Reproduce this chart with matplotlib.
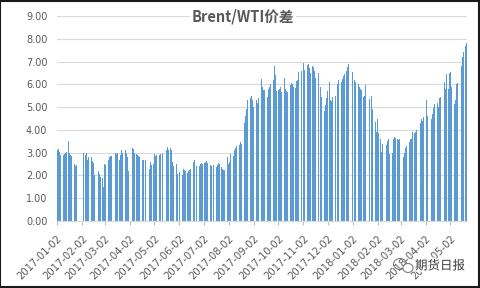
import matplotlib
matplotlib.use('Agg')
import matplotlib.pyplot as plt
import matplotlib.dates as mdates
import matplotlib.patheffects as pe
from matplotlib.patches import Rectangle, Ellipse
import numpy as np
import pandas as pd

# ---- data -------------------------------------------------------------
start_date = '2017-01-02'
end_date = '2018-05-22'
holidays = ['2017-01-27', '2017-01-30', '2017-01-31', '2017-02-01', '2017-02-02',
            '2018-04-05', '2018-04-06']

spread_2017_h1 = [
    3.1, 3.15, 3.1, 3.05, 2.9,
    2.8, 2.9, 2.95, 3.0, 3.05,
    3.5, 3.0, 2.9, 2.85, 2.8,
    2.5, 2.4, 2.3, 2.45,
    3.0,
    2.9, 3.0, 2.7, 2.8, 2.75,
    2.8, 2.65, 2.7, 2.55, 2.0,
    2.1, 2.3, 2.2, 2.05, 1.95,
    1.9, 1.5, 2.5, 2.45, 2.6,
    2.7, 2.8, 2.75, 2.85, 2.85,
    3.2, 2.95, 3.0, 2.95, 3.0,
    2.7, 2.9, 3.1, 3.0, 2.95,
    3.1, 3.0, 2.9, 2.8, 2.2,
    2.9, 3.05, 3.2, 3.15, 3.0,
    2.95, 2.9, 2.85, 2.8, 2.75,
    2.7, 2.7, 2.65, 2.6, 2.7,
    2.55, 2.4, 2.3, 2.6, 2.45,
    2.5, 2.95, 2.85, 2.9, 2.95,
    2.9, 2.95, 2.9, 3.0, 3.0,
    3.0, 3.05, 3.1, 3.25, 3.1,
    3.2, 3.1, 2.6, 2.4, 2.35,
    2.5, 2.05, 2.3, 2.2, 2.15,
    2.0, 2.25, 2.3, 2.25, 2.2,
    2.1, 2.2, 2.25, 2.3, 2.3,
    2.6, 2.7, 2.8, 2.75, 2.4,
    2.4, 2.45, 2.5, 2.55, 2.5,
]
spread_2017_h2 = [
    2.55, 2.6, 2.65, 2.55, 2.6,
    2.45, 2.4, 2.45, 2.5, 2.45,
    2.35, 2.4, 2.45, 2.55, 2.5,
    2.35, 2.3, 2.25, 2.25, 2.3,
    2.8, 2.5, 2.6, 2.75, 2.95,
    2.85, 3.0, 3.1, 3.2, 3.3,
    3.3, 3.35, 3.45, 3.4, 3.85,
    4.3, 4.6, 4.9, 5.1, 5.3,
    5.4, 5.2, 5.5, 5.3, 5.0,
    5.0, 5.3, 5.2, 5.4, 5.5,
    6.25, 5.9, 5.75, 5.8, 5.75,
    5.45, 5.6, 5.8, 5.9, 6.0,
    6.0, 6.2, 6.8, 6.4, 5.7,
    5.75, 5.8, 5.9, 5.7, 5.65,
    6.3, 5.7, 5.8, 5.7, 5.65,
    5.6, 5.95, 6.05, 6.0, 5.9,
    5.85, 6.15, 6.2, 6.5, 6.55,
    6.6, 6.7, 6.9, 6.95, 6.65,
    6.4, 6.85, 6.9, 6.7, 6.5,
    6.8, 6.75, 6.6, 6.4, 6.3,
    6.5, 6.2, 6.1, 5.9, 5.45,
    5.0, 4.85, 5.1, 5.4, 5.7,
    6.1, 5.3, 5.25, 5.3, 5.45,
    5.5, 6.7, 6.1, 6.0, 6.2,
    5.85, 6.1, 6.25, 6.35, 6.45,
    6.6, 6.75, 6.9, 7.05, 6.85,
]
spread_2018 = [
    6.55, 6.4, 6.3, 6.2, 6.1,
    6.1, 6.0, 5.9, 5.8, 5.75,
    5.45, 5.5, 5.95, 5.4, 5.35,
    5.35, 5.3, 5.45, 5.5, 4.9,
    5.3, 4.35, 3.9, 4.5, 3.85,
    3.6, 3.05, 3.4, 3.4, 3.35,
    3.35, 3.5, 3.7, 3.6, 2.95,
    3.0, 3.0, 3.6, 3.7, 3.65,
    3.6, 3.55, 3.6, 4.05, 3.2,
    2.8, 3.0, 3.1, 3.2, 3.3,
    3.3, 3.45, 3.6, 3.6, 3.9,
    3.85, 3.9, 4.0, 4.1, 4.2,
    4.3, 4.5, 4.6, 4.4, 4.55,
    4.6, 5.3, 4.6,
    4.5, 4.7, 4.95, 5.15, 5.45,
    5.2, 5.0, 5.15, 5.4, 5.45,
    5.5, 5.75, 6.1, 5.8, 6.45,
    5.8, 6.5, 6.55, 5.9, 5.2,
    5.15, 5.3, 5.65, 6.0, 6.05,
    6.05, 6.4, 6.8, 7.2, 7.4,
    7.7, 7.8,
]
tick_labels = ['2017-01-02', '2017-02-02', '2017-03-02', '2017-04-02', '2017-05-02',
               '2017-06-02', '2017-07-02', '2017-08-02', '2017-09-02', '2017-10-02',
               '2017-11-02', '2017-12-02', '2018-01-02', '2018-02-02', '2018-03-02',
               '2018-04-02', '2018-05-02']
y_ticks = [0, 1, 2, 3, 4, 5, 6, 7, 8, 9]
title_text = 'Brent/WTI价差'
watermark_text = '期货日报'

# ---- build ------------------------------------------------------------
days = pd.bdate_range(start_date, end_date)
days = days[~days.isin(pd.to_datetime(holidays))]
values = spread_2017_h1 + spread_2017_h2 + spread_2018
n = min(len(days), len(values))
xdates = mdates.date2num(days[:n].to_pydatetime())
vals = np.array(values[:n])

CJK = ['Noto Sans CJK SC', 'DejaVu Sans']
fig = plt.figure(figsize=(4.8, 2.88), dpi=100)
ax = fig.add_axes([57 / 480, 1 - 221 / 288, (467 - 57) / 480, (221 - 16) / 288])

ax.bar(xdates, vals, width=0.9, align='edge', color='#5B9BD5', linewidth=0)

ax.set_ylim(0, 9)
ax.set_yticks(y_ticks)
ax.set_yticklabels([f'{v:.2f}' for v in y_ticks])
x0 = mdates.date2num(pd.Timestamp(start_date))
x1 = mdates.date2num(pd.Timestamp(end_date)) + 1
ax.set_xlim(x0, x1)
tpos = mdates.date2num(pd.to_datetime(tick_labels).to_pydatetime())
ax.set_xticks(tpos)
ax.set_xticklabels(tick_labels, rotation=45, ha='right', rotation_mode='anchor')

ax.grid(axis='y', color='#D9D9D9', lw=0.8)
ax.set_axisbelow(True)
for s in ['top', 'right', 'left']:
    ax.spines[s].set_visible(False)
ax.spines['bottom'].set_color('#D9D9D9')
ax.spines['bottom'].set_linewidth(0.8)
ax.tick_params(axis='y', length=0, pad=7, labelsize=7, labelcolor='#595959')
ax.tick_params(axis='x', length=3, width=0.8, color='#BFBFBF', pad=6,
               labelsize=7.2, labelcolor='#595959')

fig.text(243 / 480, 1 - 17 / 288, title_text, ha='center', va='center',
         fontsize=10.5, fontweight='bold', color='#595959', family=CJK,
         bbox=dict(facecolor='white', edgecolor='none', pad=1))

wm = fig.text(440 / 480, 1 - 266 / 288, watermark_text, ha='center', va='center',
              fontsize=9, color='#3A3A3A', family=CJK)
wm.set_path_effects([pe.withStroke(linewidth=2, foreground='white')])
fig.patches.append(Ellipse((400 / 480, 1 - 264 / 288), 13 / 480, 11 / 288,
                           transform=fig.transFigure, fill=False,
                           edgecolor='#7F7F7F', lw=0.8))
fig.patches.append(Ellipse((408 / 480, 1 - 268 / 288), 10 / 480, 9 / 288,
                           transform=fig.transFigure, facecolor='white',
                           edgecolor='#7F7F7F', lw=0.8))

fig.patches.append(Rectangle((0.001, 0.002), 0.997, 0.995, transform=fig.transFigure,
                             fill=False, edgecolor='#1A1A1A', lw=1.5))

fig.savefig('out.png', dpi=100, facecolor='white')
